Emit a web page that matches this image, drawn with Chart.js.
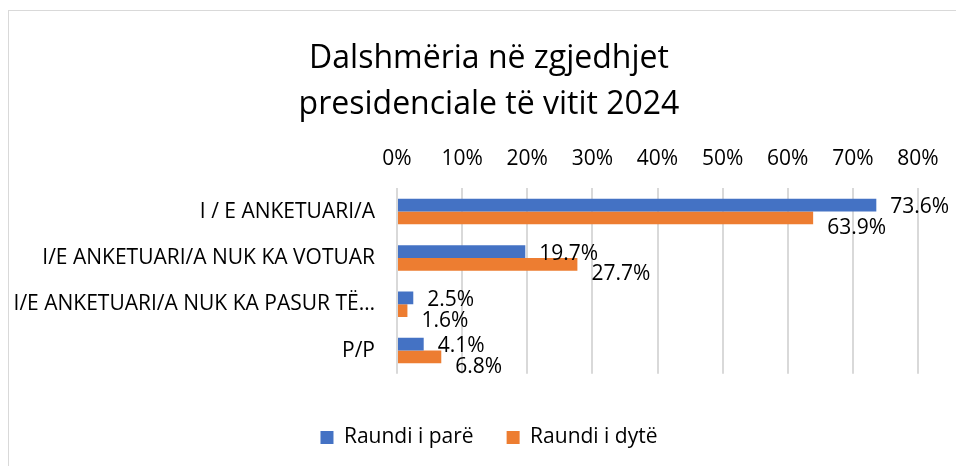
<!DOCTYPE html>
<html>
<head>
<meta charset="utf-8">
<script src="https://cdn.jsdelivr.net/npm/chart.js@4"></script>
<style>
  html, body { margin: 0; padding: 0; background: #fff; overflow: hidden; }
  .frame {
    position: absolute; left: 8px; top: 10px;
    width: 970px; height: 470px;
    border: 1px solid #d9d9d9; box-sizing: border-box;
  }
  .box { position: absolute; left: 9px; top: 11px; width: 962px; height: 455px; }
</style>
</head>
<body>
<div class="frame"></div>
<div class="box"><canvas id="turnoutChart"></canvas></div>
<script>
const categories = [
  'I / E ANKETUARI/A',
  'I/E ANKETUARI/A NUK KA VOTUAR',
  'I/E ANKETUARI/A NUK KA PASUR TË…',
  'P/P'
];
const firstRound = [73.6, 19.7, 2.5, 4.1];
const secondRound = [63.9, 27.7, 1.6, 6.8];
const seriesNames = ['Raundi i parë', 'Raundi i dytë'];
const titleLines = ['Dalshmëria në zgjedhjet', 'presidenciale të vitit 2024'];

const FONT = "'Open Sans', sans-serif";
const TXT = 21;

// draw value labels next to the bar ends (Excel style, slightly shifted)
const valueLabels = {
  id: 'valueLabels',
  afterDatasetsDraw(chart) {
    const ctx = chart.ctx;
    ctx.save();
    ctx.font = TXT + 'px ' + FONT;
    ctx.fillStyle = '#000';
    ctx.textBaseline = 'middle';
    ctx.textAlign = 'left';
    chart.data.datasets.forEach((ds, i) => {
      const meta = chart.getDatasetMeta(i);
      const dy = i === 0 ? 2 : 10;
      meta.data.forEach((bar, j) => {
        ctx.fillText(ds.data[j].toFixed(1) + '%', bar.x + 14, bar.y + dy);
      });
    });
    ctx.restore();
  }
};

const ctx = document.getElementById('turnoutChart').getContext('2d');
new Chart(ctx, {
  type: 'bar',
  data: {
    labels: categories,
    datasets: [
      {
        label: seriesNames[0],
        data: firstRound,
        backgroundColor: '#4472C4',
        barPercentage: 1,
        categoryPercentage: 0.55
      },
      {
        label: seriesNames[1],
        data: secondRound,
        backgroundColor: '#ED7D31',
        barPercentage: 1,
        categoryPercentage: 0.55
      }
    ]
  },
  options: {
    indexAxis: 'y',
    responsive: true,
    maintainAspectRatio: false,
    animation: false,
    layout: { padding: { left: 0, right: 2, top: 25, bottom: 8 } },
    plugins: {
      title: {
        display: true,
        text: titleLines,
        color: '#000',
        font: { family: FONT, size: 32, weight: 'normal', lineHeight: 1.44 },
        padding: { top: 0, bottom: 1 }
      },
      legend: {
        position: 'bottom',
        title: { display: true, text: ' ', font: { size: 1 }, padding: { top: 0, bottom: 19 } },
        labels: {
          color: '#000',
          font: { family: FONT, size: TXT },
          boxWidth: 13,
          boxHeight: 13,
          padding: 33
        }
      },
      tooltip: { enabled: false }
    },
    scales: {
      x: {
        position: 'top',
        min: 0,
        max: 80,
        ticks: {
          stepSize: 10,
          color: '#000',
          font: { family: FONT, size: TXT },
          padding: 17,
          callback: v => v + '%'
        },
        grid: { color: '#d9d9d9', lineWidth: 2, drawTicks: false },
        border: { display: false }
      },
      y: {
        afterFit: scale => { scale.width = 388; },
        ticks: {
          color: '#000',
          font: { family: FONT, size: 21 },
          padding: 14
        },
        grid: { display: false },
        border: { display: false }
      },
      // empty right-hand gutter so the title and legend centre like the original
      yRight: {
        position: 'right',
        afterFit: scale => { scale.width = 51; },
        ticks: { display: false },
        grid: { display: false },
        border: { display: false }
      }
    }
  },
  plugins: [valueLabels]
});
</script>
</body>
</html>
